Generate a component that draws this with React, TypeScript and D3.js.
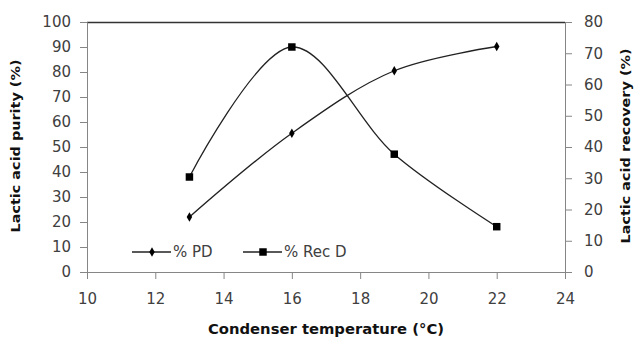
import * as d3 from 'd3'
import { useEffect, useRef } from 'react'

const W = 635
const H = 338
const margin = { top: 22, right: 70, bottom: 66, left: 87 }
const width = W - margin.left - margin.right
const height = H - margin.top - margin.bottom

const temps = [13, 16, 19, 22]
const purityPD = [22, 55.5, 80.5, 90.2]
const recoveryD = [30.4, 72, 37.7, 14.5]
const xTicks = [10, 12, 14, 16, 18, 20, 22, 24]
const leftTicks = [0, 10, 20, 30, 40, 50, 60, 70, 80, 90, 100]
const rightTicks = [0, 10, 20, 30, 40, 50, 60, 70, 80]

const font = 'DejaVu Sans, sans-serif'
const axisGray = '#868686'
const textGray = '#404040'

export default function App() {
  const ref = useRef<SVGSVGElement>(null)

  useEffect(() => {
    const svg = d3.select(ref.current)
    svg.selectAll('*').remove()

    const x = d3.scaleLinear().domain([10, 24]).range([0, width])
    const yL = d3.scaleLinear().domain([0, 100]).range([height, 0])
    const yR = d3.scaleLinear().domain([0, 80]).range([height, 0])

    const g = svg
      .append('g')
      .attr('transform', `translate(${margin.left}, ${margin.top})`)

    // top border
    g.append('line')
      .attr('x1', 0)
      .attr('x2', width)
      .attr('y1', 0.5)
      .attr('y2', 0.5)
      .attr('stroke', '#333')
      .attr('stroke-width', 1.5)

    const styleAxis = (sel: any) => {
      sel.select('.domain').attr('stroke', axisGray)
      sel.selectAll('.tick line').attr('stroke', axisGray)
      sel
        .selectAll('.tick text')
        .attr('fill', textGray)
        .style('font-family', font)
        .style('font-size', '15px')
    }

    g.append('g')
      .call(
        d3.axisLeft(yL).tickValues(leftTicks).tickSize(7).tickSizeOuter(7).tickPadding(9)
      )
      .call(styleAxis)

    g.append('g')
      .attr('transform', `translate(${width}, 0)`)
      .call(
        d3.axisRight(yR).tickValues(rightTicks).tickSize(7).tickSizeOuter(7).tickPadding(12)
      )
      .call(styleAxis)

    g.append('g')
      .attr('transform', `translate(0, ${height})`)
      .call(
        d3.axisBottom(x).tickValues(xTicks).tickSize(7).tickSizeOuter(0).tickPadding(14)
      )
      .call(styleAxis)

    const curve = d3.curveCatmullRom.alpha(0.5)

    const linePD = d3
      .line<number>()
      .x((_, i) => x(temps[i]))
      .y((d) => yL(d))
      .curve(curve)
    const lineRec = d3
      .line<number>()
      .x((_, i) => x(temps[i]))
      .y((d) => yR(d))
      .curve(curve)

    g.append('path')
      .attr('d', linePD(purityPD))
      .attr('fill', 'none')
      .attr('stroke', '#222')
      .attr('stroke-width', 1.3)
    g.append('path')
      .attr('d', lineRec(recoveryD))
      .attr('fill', 'none')
      .attr('stroke', '#222')
      .attr('stroke-width', 1.3)

    const diamond = d3.symbol().type(d3.symbolDiamond).size(26)
    const square = d3.symbol().type(d3.symbolSquare).size(56)

    g.selectAll('.pd')
      .data(purityPD)
      .enter()
      .append('path')
      .attr('d', diamond)
      .attr('transform', (d, i) => `translate(${x(temps[i])}, ${yL(d)})`)
      .attr('fill', '#000')
    g.selectAll('.rec')
      .data(recoveryD)
      .enter()
      .append('path')
      .attr('d', square)
      .attr('transform', (d, i) => `translate(${x(temps[i])}, ${yR(d)})`)
      .attr('fill', '#000')

    // legend
    const legend = [
      { label: '% PD', sym: diamond, x0: 45 },
      { label: '% Rec D', sym: square, x0: 156 },
    ]
    const ly = yL(8) - 0
    legend.forEach((l) => {
      g.append('line')
        .attr('x1', l.x0)
        .attr('x2', l.x0 + 39)
        .attr('y1', ly)
        .attr('y2', ly)
        .attr('stroke', '#222')
        .attr('stroke-width', 1.3)
      g.append('path')
        .attr('d', l.sym)
        .attr('transform', `translate(${l.x0 + 20}, ${ly})`)
        .attr('fill', '#000')
      g.append('text')
        .attr('x', l.x0 + 41)
        .attr('y', ly + 5)
        .attr('fill', textGray)
        .style('font-family', font)
        .style('font-size', '15px')
        .text(l.label)
    })

    // axis titles
    svg
      .append('text')
      .attr('x', margin.left + width / 2 + 0)
      .attr('y', 334)
      .attr('text-anchor', 'middle')
      .attr('textLength', 236)
      .attr('lengthAdjust', 'spacingAndGlyphs')
      .attr('fill', '#111')
      .style('font-family', font)
      .style('font-size', '14px')
      .style('font-weight', 'bold')
      .text('Condenser temperature (°C)')

    svg
      .append('text')
      .attr('transform', `translate(20, 146) rotate(-90)`)
      .attr('text-anchor', 'middle')
      .attr('textLength', 173)
      .attr('lengthAdjust', 'spacingAndGlyphs')
      .attr('fill', '#111')
      .style('font-family', font)
      .style('font-size', '13px')
      .style('font-weight', 'bold')
      .text('Lactic acid  purity (%)')

    svg
      .append('text')
      .attr('transform', `translate(630, 146) rotate(-90)`)
      .attr('text-anchor', 'middle')
      .attr('textLength', 195)
      .attr('lengthAdjust', 'spacingAndGlyphs')
      .attr('fill', '#111')
      .style('font-family', font)
      .style('font-size', '13px')
      .style('font-weight', 'bold')
      .text('Lactic acid  recovery (%)')
  }, [])

  return (
    <svg
      ref={ref}
      width={W}
      height={H}
      style={{ position: 'absolute', left: 0, top: 0, background: '#fff' }}
    />
  )
}
